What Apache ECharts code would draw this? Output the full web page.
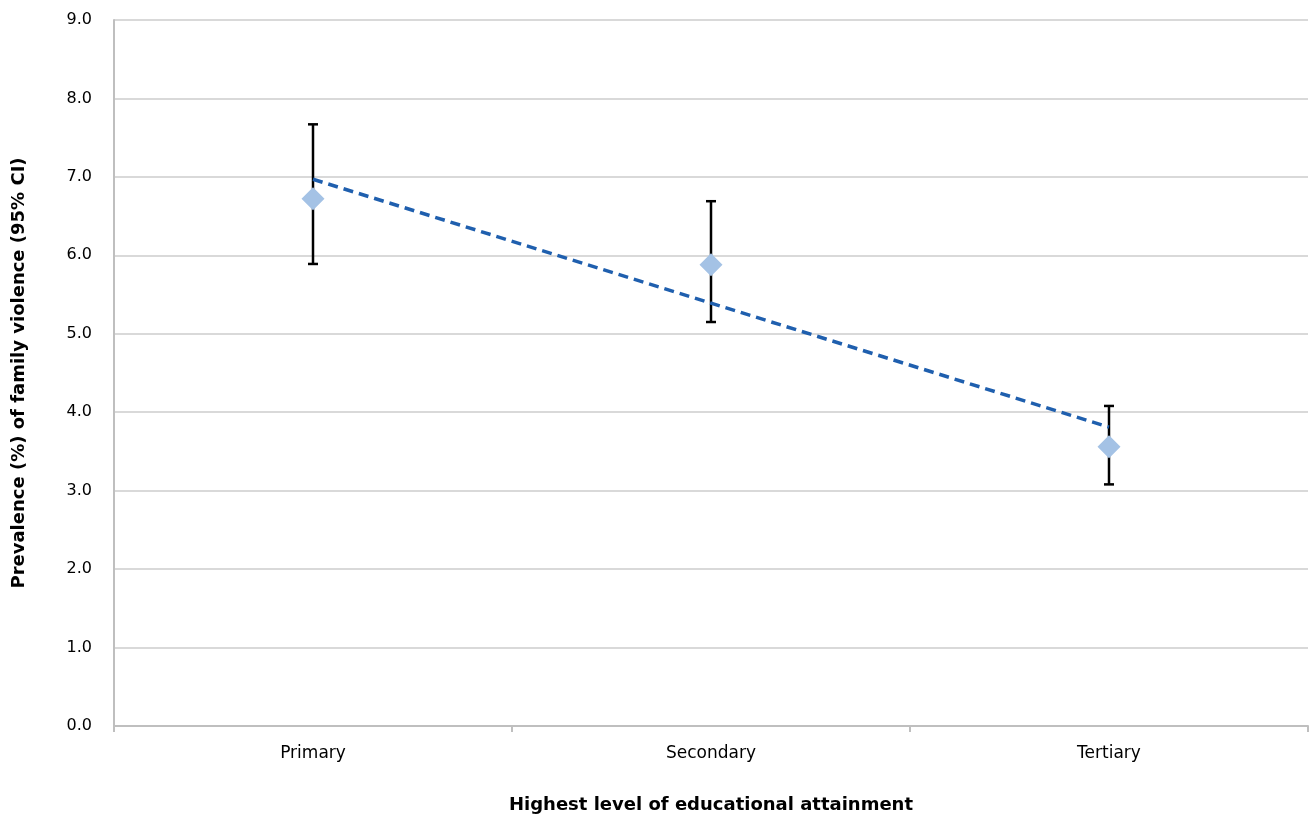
<!DOCTYPE html>
<html>
<head>
<meta charset="utf-8">
<script src="https://cdn.jsdelivr.net/npm/echarts@6/dist/echarts.min.js"></script>
<style>html,body{margin:0;padding:0;background:#fff}#c{width:1311px;height:816px}</style>
</head>
<body>
<div id="c"></div>
<script>
const categories = ['Primary', 'Secondary', 'Tertiary'];
const prevalence = [6.72, 5.88, 3.56];
const ciLower = [5.89, 5.15, 3.08];
const ciUpper = [7.67, 6.69, 4.08];
const trend = [6.97, 5.39, 3.81];
const yTicks = [0, 9, 1];

const chart = echarts.init(document.getElementById('c'), null, {renderer: 'canvas'});
const FONT = '"DejaVu Sans", sans-serif';
chart.setOption({
  animation: false,
  grid: {left: 114, right: 3, top: 20, bottom: 90, outerBoundsMode: 'none', containLabel: false},
  xAxis: {
    type: 'category', data: categories, boundaryGap: true,
    name: 'Highest level of educational attainment', nameLocation: 'middle', nameGap: 70,
    nameTextStyle: {fontFamily: FONT, fontWeight: 'bold', fontSize: 18, color: '#000'},
    axisLine: {lineStyle: {color: '#bfbfbf', width: 2}},
    axisTick: {show: true, length: 6, lineStyle: {color: '#bfbfbf', width: 2}},
    axisLabel: {fontFamily: FONT, fontSize: 17, color: '#000', margin: 19}
  },
  yAxis: {
    type: 'value', min: yTicks[0], max: yTicks[1], interval: yTicks[2],
    name: 'Prevalence (%) of family violence (95% CI)', nameLocation: 'middle', nameGap: 86,
    nameTextStyle: {fontFamily: FONT, fontWeight: 'bold', fontSize: 18, color: '#000'},
    axisLine: {show: true, lineStyle: {color: '#bfbfbf', width: 2}},
    axisTick: {show: false},
    splitLine: {lineStyle: {color: '#d9d9d9', width: 2}},
    axisLabel: {fontFamily: FONT, fontSize: 16, color: '#000', margin: 22,
      formatter: v => v.toFixed(1)}
  },
  series: [
    {
      type: 'custom', z: 3,
      data: categories.map((c, i) => [i, ciLower[i], ciUpper[i]]),
      renderItem: function (params, api) {
        const lo = api.coord([api.value(0), api.value(1)]);
        const hi = api.coord([api.value(0), api.value(2)]);
        const w = 5;
        const style = {stroke: '#000', lineWidth: 2.5};
        return {type: 'group', children: [
          {type: 'line', shape: {x1: hi[0], y1: hi[1], x2: lo[0], y2: lo[1]}, style},
          {type: 'line', shape: {x1: hi[0] - w, y1: hi[1], x2: hi[0] + w, y2: hi[1]}, style},
          {type: 'line', shape: {x1: lo[0] - w, y1: lo[1], x2: lo[0] + w, y2: lo[1]}, style}
        ]};
      }
    },
    {
      type: 'line', data: trend, z: 4, symbol: 'none',
      lineStyle: {color: '#1f5fae', width: 3.5, type: [10, 6]}
    },
    {
      type: 'scatter', data: prevalence, z: 5, symbol: 'diamond', symbolSize: [23, 23],
      itemStyle: {color: '#a4c2e5', opacity: 1}
    }
  ]
});
</script>
</body>
</html>
